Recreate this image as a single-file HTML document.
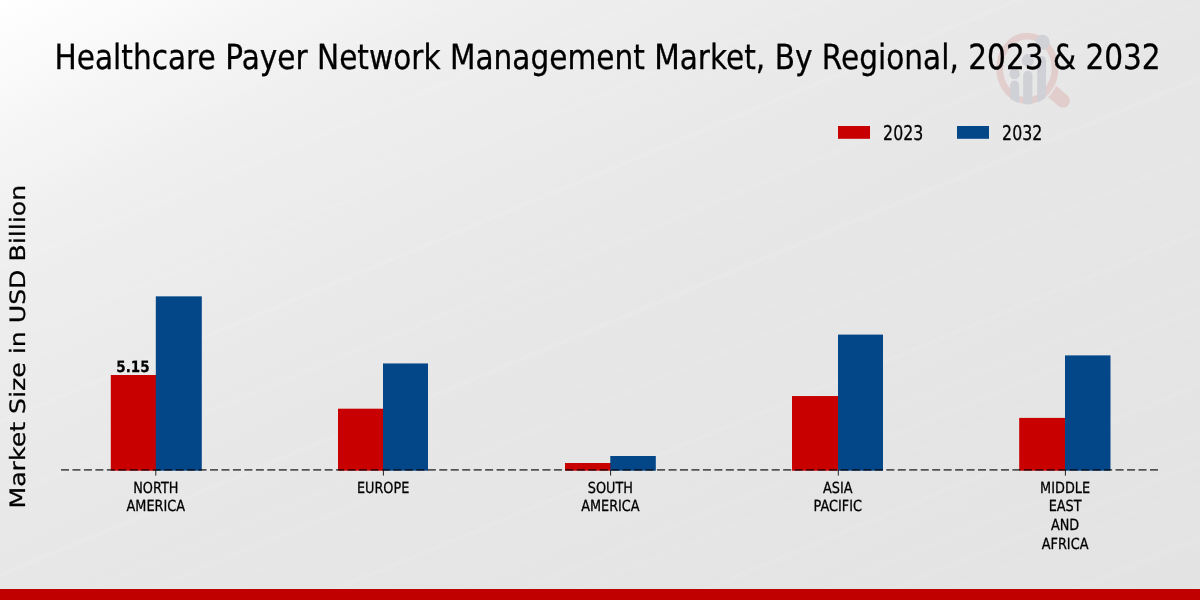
<!DOCTYPE html>
<html lang="en"><head><meta charset="utf-8">
<title>Healthcare Payer Network Management Market, By Regional, 2023 &amp; 2032</title>
<style>
html,body{margin:0;padding:0;background:#e6e6e6;}
body{width:1200px;height:600px;overflow:hidden;position:relative;font-family:'DejaVu Sans','Liberation Sans',sans-serif;}
#bg{position:absolute;left:0;top:0;width:1200px;height:600px;background:repeating-linear-gradient(157.5deg,rgba(255,255,255,0) 0px,rgba(255,255,255,0) 30px,rgba(255,255,255,0.055) 34px,rgba(255,255,255,0) 39px,rgba(255,255,255,0) 71px),repeating-linear-gradient(157.5deg,rgba(255,255,255,0) 0px,rgba(255,255,255,0) 11px,rgba(255,255,255,0.04) 14px,rgba(255,255,255,0) 18px,rgba(255,255,255,0) 47px),linear-gradient(to bottom right,#ffffff 0%,#fbfbfb 5%,#f6f6f6 11%,#f0f0f0 19%,#ececec 29%,#e9e9e9 40%,#e7e7e7 50%,#e5e5e5 70%,#e3e3e3 100%);}
#strip{position:absolute;left:0;top:589px;width:1200px;height:11px;background:#c00000;}
svg{position:absolute;left:0;top:0;}
svg text{font-family:'DejaVu Sans','Liberation Sans',sans-serif;text-rendering:geometricPrecision;fill:#000;stroke:#000;stroke-width:0.3px;stroke-linejoin:round;}
</style></head><body>
<div id="bg"></div>
<svg width="1200" height="600" viewBox="0 0 1200 600">

<defs>
<clipPath id="lens"><ellipse cx="1027.3" cy="68.35" rx="31.3" ry="36.2"/></clipPath>
<mask id="hm" maskUnits="userSpaceOnUse" x="980" y="20" width="110" height="100"><rect x="980" y="20" width="110" height="100" fill="#fff"/><ellipse cx="1027.3" cy="68.35" rx="32.6" ry="37.2" fill="#000"/></mask>
</defs>
<g id="wm" opacity="0.105">
<ellipse cx="1027.3" cy="68.35" rx="27.7" ry="32.15" fill="none" stroke="#c00000" stroke-width="6.8"/>
<line x1="1045" y1="85.3" x2="1062.9" y2="100.8" stroke="#c00000" stroke-width="14" stroke-linecap="round" mask="url(#hm)"/>
</g>
<g fill="#cfd1d7" clip-path="url(#lens)">
<ellipse cx="1014.6" cy="73.8" rx="5.2" ry="5.5"/><rect x="1010.2" y="80.6" width="8.9" height="40" rx="4.4"/>
<ellipse cx="1027.8" cy="60.4" rx="6.0" ry="6.3"/><rect x="1023.2" y="70.7" width="9.2" height="50" rx="4.6"/>
<rect x="1037.2" y="56" width="8.9" height="60" rx="4.4"/>
</g>
<ellipse cx="1042.65" cy="42.4" rx="7.1" ry="7.7" fill="#cfd1d7"/>

<text transform="translate(607.60,69.00) scale(0.8554,1)" font-size="34.6" text-anchor="middle" font-weight="normal" >Healthcare Payer Network Management Market, By Regional, 2023 &amp; 2032</text>
<text transform="translate(25.2,346.7) rotate(-90) scale(1.0,0.84)" font-size="25.2" text-anchor="middle">Market Size in USD Billion</text>
<rect x="838" y="126" width="32" height="12.8" fill="#c80000"/>
<rect x="957" y="126" width="32" height="12.8" fill="#034789"/>
<text transform="translate(883.10,140.00) scale(0.777,1)" font-size="20.3" text-anchor="start" font-weight="normal" >2023</text>
<text transform="translate(1002.10,140.00) scale(0.777,1)" font-size="20.3" text-anchor="start" font-weight="normal" >2032</text>
<rect x="110.8" y="375.0" width="45.70" height="95.70" fill="#c80000"/>
<rect x="155.8" y="296.35" width="46.00" height="174.35" fill="#034789"/>
<rect x="338.0" y="408.7" width="45.70" height="62.00" fill="#c80000"/>
<rect x="383.0" y="363.45" width="45.00" height="107.25" fill="#034789"/>
<rect x="565.0" y="463.0" width="46.00" height="7.70" fill="#c80000"/>
<rect x="610.3" y="456.0" width="45.50" height="14.70" fill="#034789"/>
<rect x="792.0" y="396.05" width="46.70" height="74.65" fill="#c80000"/>
<rect x="838.0" y="334.6" width="45.00" height="136.10" fill="#034789"/>
<rect x="1019.2" y="417.9" width="46.50" height="52.80" fill="#c80000"/>
<rect x="1065.0" y="355.4" width="45.50" height="115.30" fill="#034789"/>
<line x1="61" y1="469.85" x2="1160.4" y2="469.85" stroke="#000" stroke-opacity="0.64" stroke-width="1.7" stroke-dasharray="8.0 3.463"/>
<line x1="155.8" y1="470" x2="155.8" y2="475.6" stroke="#222" stroke-width="1"/>
<text transform="translate(155.80,493.00) scale(0.84,1)" font-size="15.3" text-anchor="middle" font-weight="normal" >NORTH</text>
<text transform="translate(155.80,511.00) scale(0.84,1)" font-size="15.3" text-anchor="middle" font-weight="normal" >AMERICA</text>
<line x1="383.4" y1="470" x2="383.4" y2="475.6" stroke="#222" stroke-width="1"/>
<text transform="translate(383.10,493.00) scale(0.84,1)" font-size="15.3" text-anchor="middle" font-weight="normal" >EUROPE</text>
<line x1="610.6" y1="470" x2="610.6" y2="475.6" stroke="#222" stroke-width="1"/>
<text transform="translate(610.40,493.00) scale(0.84,1)" font-size="15.3" text-anchor="middle" font-weight="normal" >SOUTH</text>
<text transform="translate(610.40,511.00) scale(0.84,1)" font-size="15.3" text-anchor="middle" font-weight="normal" >AMERICA</text>
<line x1="838.3" y1="470" x2="838.3" y2="475.6" stroke="#222" stroke-width="1"/>
<text transform="translate(837.80,493.00) scale(0.84,1)" font-size="15.3" text-anchor="middle" font-weight="normal" >ASIA</text>
<text transform="translate(837.80,511.00) scale(0.84,1)" font-size="15.3" text-anchor="middle" font-weight="normal" >PACIFIC</text>
<line x1="1065.4" y1="470" x2="1065.4" y2="475.6" stroke="#222" stroke-width="1"/>
<text transform="translate(1065.10,493.00) scale(0.84,1)" font-size="15.3" text-anchor="middle" font-weight="normal" >MIDDLE</text>
<text transform="translate(1065.10,511.00) scale(0.84,1)" font-size="15.3" text-anchor="middle" font-weight="normal" >EAST</text>
<text transform="translate(1065.10,530.00) scale(0.84,1)" font-size="15.3" text-anchor="middle" font-weight="normal" >AND</text>
<text transform="translate(1065.10,549.00) scale(0.84,1)" font-size="15.3" text-anchor="middle" font-weight="normal" >AFRICA</text>
<text transform="translate(132.95,372.00) scale(0.863,1)" font-size="15.6" text-anchor="middle" font-weight="bold" >5.15</text>
</svg>
<div id="strip"></div>
</body></html>
